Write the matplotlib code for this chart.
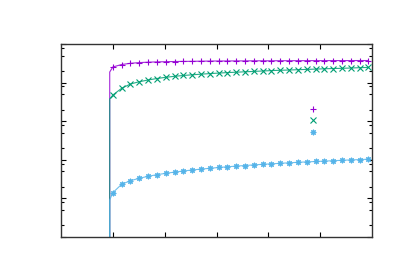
import matplotlib
matplotlib.use("Agg")
import matplotlib.pyplot as plt
from matplotlib.ticker import FixedLocator, NullFormatter

# x positions of the sampled points (markers)
x_pts = [1.00, 1.17, 1.34, 1.51, 1.68, 1.85, 2.02, 2.19, 2.36, 2.53,
         2.70, 2.87, 3.04, 3.21, 3.38, 3.55, 3.72, 3.89, 4.06, 4.23,
         4.40, 4.57, 4.74, 4.91, 5.08, 5.25, 5.42, 5.59, 5.76, 5.93]
# start of each curve (line only, no marker)
x_start = 0.94
floor_val = 0.01

purple_start = 18800
purple = [25400, 29400, 31600, 33000, 33800, 34400, 34800, 35200, 35400, 35600,
          35900, 36100, 36300, 36300, 36500, 36500, 36700, 36700, 36700, 36900,
          36900, 37000, 37000, 37100, 37100, 37200, 37200, 37200, 37300, 37300]

green_start = 3760
green = [4770, 7120, 9200, 10540, 11670, 12770, 13710, 14560, 15280, 15920,
         16520, 17100, 17620, 18160, 18590, 19050, 19500, 19990, 20460, 20840,
         21200, 21580, 21980, 22390, 22800, 23170, 23440, 23880, 24320, 24770]

blue_start = 9.1
blue = [14.1, 23.2, 28.8, 33.2, 37.4, 41.1, 44.7, 48.0, 51.3, 54.4,
        57.4, 60.3, 63.2, 65.9, 68.7, 71.1, 73.8, 76.4, 78.7, 81.1,
        83.6, 86.1, 88.3, 90.4, 92.5, 94.8, 97.0, 99.4, 101.2, 103.7]

series = [
    (purple_start, purple, "#9400d3", "+"),
    (green_start, green, "#009e73", "x"),
    (blue_start, blue, "#56b4e9", (8, 2, 0)),
]

fig = plt.figure(figsize=(4.0, 2.79), dpi=100)
ax = fig.add_axes([0.1525, 0.1505, 0.7775, 0.6918])

handles = []
for start, vals, col, mk in series:
    xs = [x_start, x_start] + x_pts
    ys = [floor_val, start] + vals
    ax.plot(xs, ys, color=col, lw=0.8, alpha=0.85)
    h = ax.plot(x_pts, vals, linestyle="none", marker=mk, color=col,
                markersize=4, markeredgewidth=0.8)[0]
    handles.append(h)

ax.set_yscale("log")
ax.set_xlim(0, 6)
ax.set_ylim(1, 1e5)

ax.xaxis.set_major_locator(FixedLocator([1, 2, 3, 4, 5]))
ax.yaxis.set_major_locator(FixedLocator([1, 10, 100, 1000, 1e4, 1e5]))
minors = []
for k in range(5):
    for m in (2, 5, 8):
        minors.append(m * 10 ** k)
ax.yaxis.set_minor_locator(FixedLocator(minors))
ax.xaxis.set_major_formatter(NullFormatter())
ax.yaxis.set_major_formatter(NullFormatter())
ax.yaxis.set_minor_formatter(NullFormatter())

ax.tick_params(which="both", direction="in", top=True, right=True, width=0.8)
ax.tick_params(which="major", length=3.5)
ax.tick_params(which="minor", length=2)
for sp in ax.spines.values():
    sp.set_linewidth(1.0)
    sp.set_color("#333333")

ax.legend(handles, ["", "", ""], loc="upper left", bbox_to_anchor=(0.776, 0.715),
          frameon=False, handlelength=1.0, labelspacing=0.15, borderpad=0,
          handletextpad=0, fontsize=8)

fig.savefig("out.png", dpi=100)
